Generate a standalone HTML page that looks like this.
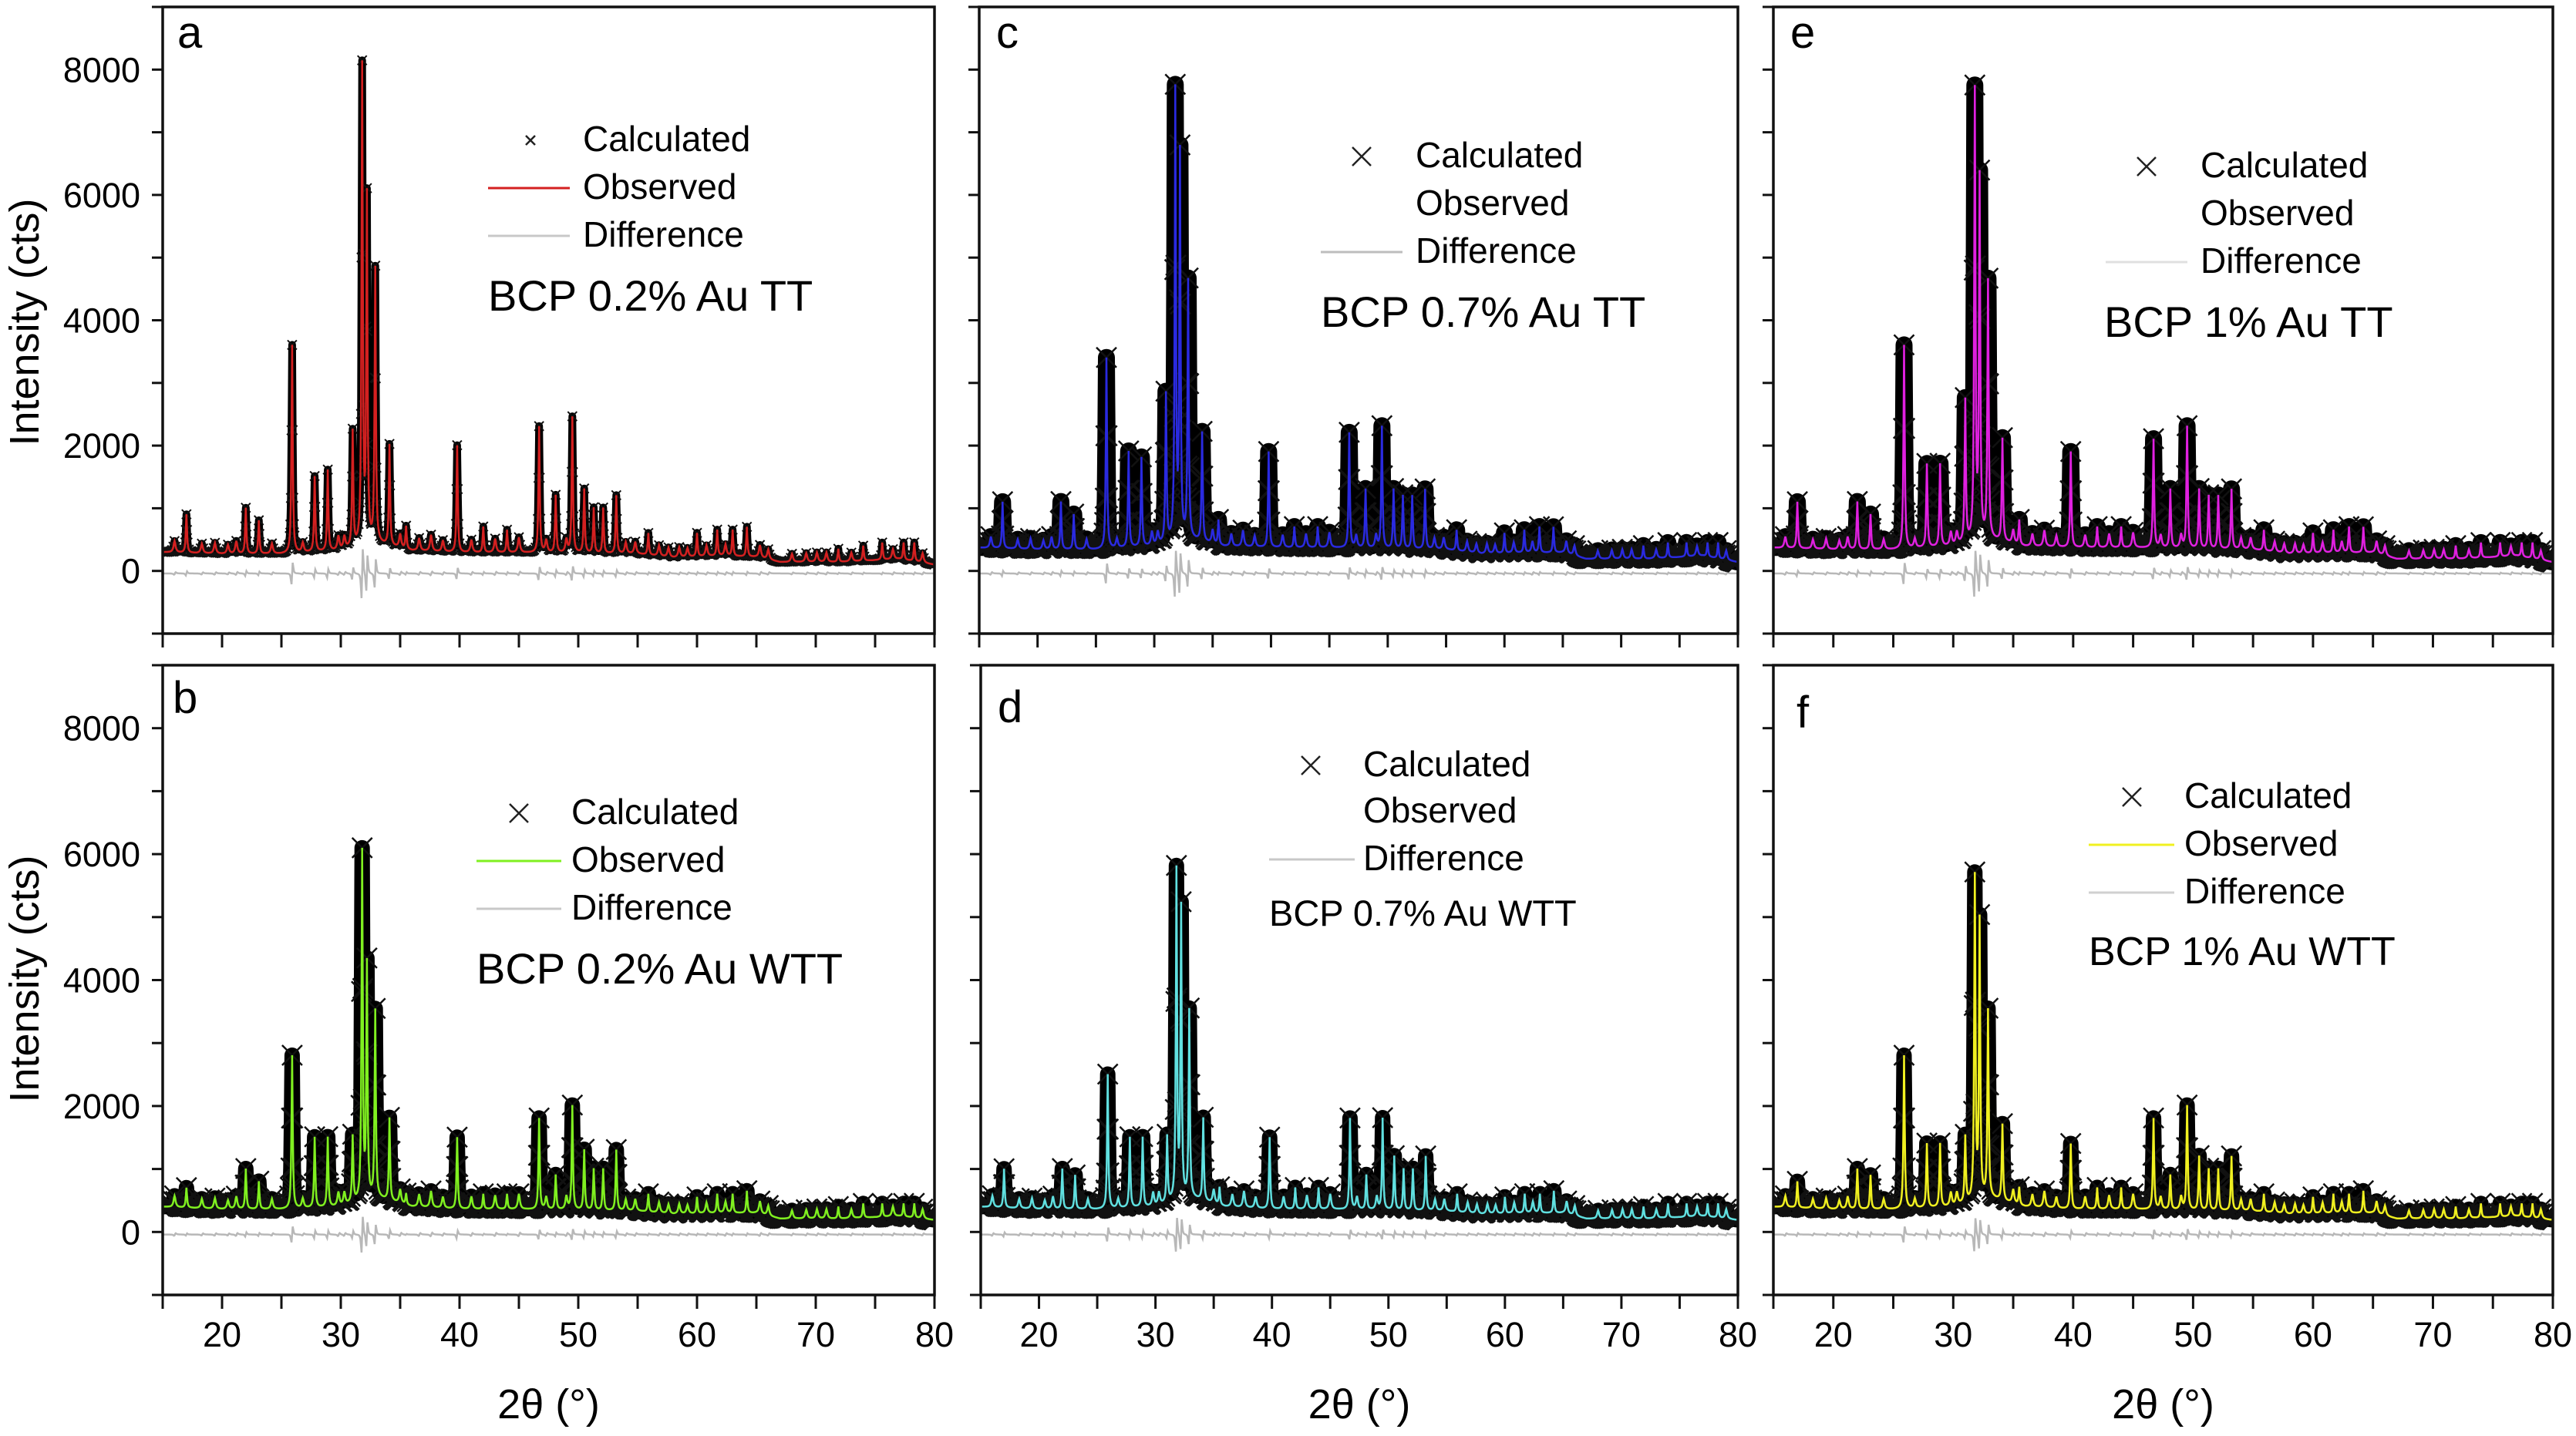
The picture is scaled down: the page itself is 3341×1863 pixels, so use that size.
<!DOCTYPE html>
<html><head><meta charset="utf-8"><style>
html,body{margin:0;padding:0;background:#fff}
svg{display:block;font-family:"Liberation Sans",Arial,sans-serif}
</style></head><body>
<svg id="fig" width="3341" height="1863" viewBox="0 0 3341 1863" xmlns="http://www.w3.org/2000/svg">
<rect width="3341" height="1863" fill="#fff"/>
<g id="plots"></g>
<text transform="translate(50,418) rotate(-90)" text-anchor="middle" font-size="54">Intensity (cts)</text>
<text transform="translate(50,1270) rotate(-90)" text-anchor="middle" font-size="54">Intensity (cts)</text>
</svg>
<script>
const peakPos=[17,22,23.1,25.9,27.8,28.9,31,31.8,32.2,32.9,34.1,35.5,39.8,42,44,46.7,48.1,49.5,50.5,51.3,52.1,53.2,55.9,60,61.7,63,64.2,71.9,74,75.6,77.4,78.3];
const heightsA=[900,1000,800,3600,1500,1600,2200,8000,5900,4800,2000,700,2000,700,650,2300,1200,2450,1300,1000,1000,1200,600,600,650,650,700,350,400,450,450,450];
const heightsB=[700,1000,800,2800,1500,1500,1500,6000,4200,3500,1800,600,1500,600,600,1800,900,2000,1300,1000,1000,1300,600,550,600,600,650,400,450,450,450,450];
const heightsC=[1100,1100,900,3400,1900,1800,2800,7600,6600,4600,2200,800,1900,700,700,2200,1300,2300,1300,1200,1200,1300,650,600,650,700,700,400,450,450,450,450];
const heightsD=[1000,1000,900,2500,1500,1500,1500,5700,5100,3500,1800,700,1500,700,700,1800,900,1800,1200,1000,1000,1200,600,550,600,600,650,400,450,450,450,450];
const heightsE=[1100,1100,900,3600,1700,1700,2700,7600,6200,4600,2100,800,1900,700,700,2100,1300,2300,1300,1200,1200,1300,650,600,650,700,700,400,450,450,450,450];
const heightsF=[800,1000,900,2800,1400,1400,1500,5600,4900,3500,1700,700,1400,700,700,1800,900,2000,1200,1000,1000,1200,600,550,600,600,650,400,450,450,450,450];
const minorPos=[16,18.3,19.4,20.5,21.2,24.2,26.8,29.8,30.3,35,36.6,37.6,38.6,41,43,45,47.3,49,54,54.8,56.8,57.6,58.5,59.2,60.8,62.4,65.3,66,68,69.2,70.1,70.9,73,76.5,79];
const minorH=[180,150,170,140,200,160,150,220,200,220,200,260,180,200,220,240,200,210,180,190,170,150,160,140,170,180,200,160,130,140,150,150,140,160,150];
const bgX=[15,20,25,30,33,36,40,45,55,58,62,65,67,72,77,80];
const bgTopA=[300,270,270,320,430,320,290,290,270,210,240,220,140,140,190,100];
const bgTopCE=[370,340,340,390,500,390,370,370,340,270,290,290,190,190,240,140];
const bgBottom=[400,360,360,400,540,400,360,360,330,280,300,300,210,210,250,190];
const xTicks=[20,30,40,50,60,70,80];
const yTicks=[0,2000,4000,6000,8000];

const NS="http://www.w3.org/2000/svg";
const root=document.getElementById('plots');
function mk(tag,attrs,parent){const e=document.createElementNS(NS,tag);for(const k in attrs)e.setAttribute(k,attrs[k]);(parent||root).appendChild(e);return e;}
function bgAt(x,bg){for(let i=0;i<bgX.length-1;i++){if(x<=bgX[i+1]){const t=(x-bgX[i])/(bgX[i+1]-bgX[i]);return bg[i]+t*(bg[i+1]-bg[i]);}}return bg[bg.length-1];}

const panels=[
 {id:'a',x0:211,x1:1212,y0:9,y1:822,h:heightsA,bg:bgTopA,col:'#d42020',band:10,ms:6,all:true,xl:false,yl:true,
  letter:[230,62],lg:{cx:688,lx0:633,lx1:739,tx:756,y:[196,258,320],obs:true,diffCol:'#c8c8c8'},title:['BCP 0.2% Au TT',633,403,56]},
 {id:'c',x0:1270,x1:2254,y0:9,y1:822,h:heightsC,bg:bgTopCE,col:'#2a2ae0',band:22,ms:13,all:true,xl:false,yl:false,
  letter:[1292,62],lg:{cx:1766,lx0:1713,lx1:1819,tx:1836,y:[217,279,341],obs:false,diffCol:'#bdbdbd'},title:['BCP 0.7% Au TT',1713,424,56]},
 {id:'e',x0:2300,x1:3311,y0:9,y1:822,h:heightsE,bg:bgTopCE,col:'#e020e0',band:22,ms:13,all:true,xl:false,yl:false,
  letter:[2322,62],lg:{cx:2784,lx0:2731,lx1:2837,tx:2854,y:[230,292,354],obs:false,diffCol:'#e0e0e0'},title:['BCP 1% Au TT',2729,437,56]},
 {id:'b',x0:211,x1:1212,y0:863,y1:1680,h:heightsB,bg:bgBottom,col:'#80f020',band:20,ms:13,all:true,xl:true,yl:true,
  letter:[224,925],lg:{cx:673,lx0:618,lx1:728,tx:741,y:[1069,1131,1193],obs:true,diffCol:'#c8c8c8'},title:['BCP 0.2% Au WTT',618,1276,56]},
 {id:'d',x0:1272,x1:2254,y0:863,y1:1680,h:heightsD,bg:bgBottom,col:'#60e0e0',band:20,ms:13,all:true,xl:true,yl:false,
  letter:[1294,937],lg:{cx:1700,lx0:1646,lx1:1757,tx:1768,y:[1007,1067,1129],obs:false,diffCol:'#c8c8c8'},title:['BCP 0.7% Au WTT',1646,1201,47]},
 {id:'f',x0:2300,x1:3311,y0:863,y1:1680,h:heightsF,bg:bgBottom,col:'#f0f020',band:20,ms:13,all:true,xl:true,yl:false,
  letter:[2330,944],lg:{cx:2765,lx0:2709,lx1:2820,tx:2833,y:[1048,1110,1172],obs:true,diffCol:'#d0d0d0'},title:['BCP 1% Au WTT',2709,1252,52]}
];

panels.forEach(p=>{
 const g=mk('g',{});
 
 
 const X=v=>p.x0+(v-15)/65*(p.x1-p.x0);
 const Y=v=>p.y1-(v+1000)/10000*(p.y1-p.y0);
 const cp=mk('clipPath',{id:'clip'+p.id},g);
 mk('rect',{x:p.x0,y:p.y0,width:p.x1-p.x0,height:p.y1-p.y0},cp);
 const data=mk('g',{'clip-path':'url(#clip'+p.id+')'},g);
 const xs=[],obs=[],diff=[];
 for(let i=0;i<=1300;i++){
  const x=15+i*0.05;let s=0,d=0;
  p.h.forEach((hh,k)=>{const b=bgAt(peakPos[k],p.bg);const a=Math.max(hh-b,0);const w=0.06;
   s+=a/(1+((x-peakPos[k])/w)**2);
   d+=0.07*a*(1/(1+((x-peakPos[k]-0.05)/w)**2)-1/(1+((x-peakPos[k]+0.05)/w)**2));});
  minorH.forEach((hh,k)=>{const w=0.1;const l=1/(1+((x-minorPos[k])/w)**2);s+=hh*l;
   d+=0.3*hh*(1/(1+((x-minorPos[k]-0.06)/w)**2)-l);});
  xs.push(x);obs.push(bgAt(x,p.bg)+s);diff.push(-40+d);
 }
 const pts=arr=>arr.map((v,i)=>X(xs[i]).toFixed(1)+','+Y(v).toFixed(1)).join(' ');
 const dl=mk('polyline',{points:pts(diff),fill:'none',stroke:'#b8b8b8','stroke-width':2.5},data);
 
 
 const band=mk('polyline',{points:pts(obs),fill:'none',stroke:'#000','stroke-width':p.band,'stroke-linejoin':'round'},data);
 
 
 let dpath='';const m=p.ms;
 for(let i=0;i<xs.length;i+=1){
  const b=bgAt(xs[i],p.bg);
  const big=obs[i]-b>300;
  if(big||(p.all&&i%2===0)){const cx=X(xs[i]),cy=Y(obs[i]);dpath+=`M${(cx-m).toFixed(1)},${(cy-m).toFixed(1)}L${(cx+m).toFixed(1)},${(cy+m).toFixed(1)}M${(cx-m).toFixed(1)},${(cy+m).toFixed(1)}L${(cx+m).toFixed(1)},${(cy-m).toFixed(1)}`;}
 }
 const cm=mk('path',{d:dpath,stroke:'#111','stroke-width':p.ms>8?2.5:2,fill:'none'},data);
 
 
 const ol=mk('polyline',{points:pts(obs),fill:'none',stroke:p.col,'stroke-width':2.5},data);
 
 
 const fr=mk('rect',{x:p.x0,y:p.y0,width:p.x1-p.x0,height:p.y1-p.y0,fill:'none',stroke:'#111','stroke-width':3.5},g);
 
 
 for(let v=15;v<=80;v+=5){mk('line',{x1:X(v),x2:X(v),y1:p.y1,y2:p.y1+18,stroke:'#111','stroke-width':3},g);}
 for(let v=-1000;v<=9000;v+=1000){mk('line',{x1:p.x0-14,x2:p.x0,y1:Y(v),y2:Y(v),stroke:'#111','stroke-width':3},g);}
 if(p.xl){xTicks.forEach(v=>{const t=mk('text',{x:X(v),y:1747,'text-anchor':'middle','font-size':45},g);t.textContent=v;
   });
  const xt=mk('text',{x:(p.x0+p.x1)/2,y:1840,'text-anchor':'middle','font-size':54},g);xt.textContent='2θ (°)';
  }
 if(p.yl){yTicks.forEach(v=>{const t=mk('text',{x:182,y:Y(v)+16,'text-anchor':'end','font-size':45},g);t.textContent=v;
   });}
 const lt=mk('text',{x:p.letter[0],y:p.letter[1],'font-size':58},g);lt.textContent=p.id;
 
 const L=p.lg,lm=p.id==='a'?6:12;
 mk('path',{d:`M${L.cx-lm},${L.y[0]-14-lm}L${L.cx+lm},${L.y[0]-14+lm}M${L.cx-lm},${L.y[0]-14+lm}L${L.cx+lm},${L.y[0]-14-lm}`,stroke:'#222','stroke-width':2.5},g);
 if(L.obs)mk('line',{x1:L.lx0,x2:L.lx1,y1:L.y[1]-14,y2:L.y[1]-14,stroke:p.col,'stroke-width':3},g);
 mk('line',{x1:L.lx0,x2:L.lx1,y1:L.y[2]-14,y2:L.y[2]-14,stroke:L.diffCol,'stroke-width':3},g);
 ['Calculated','Observed','Difference'].forEach((s,i)=>{const t=mk('text',{x:L.tx,y:L.y[i],'font-size':46},g);t.textContent=s;
  });
 const tt=mk('text',{x:p.title[1],y:p.title[2],'font-size':p.title[3]},g);tt.textContent=p.title[0];
 
});
</script>
</body></html>
